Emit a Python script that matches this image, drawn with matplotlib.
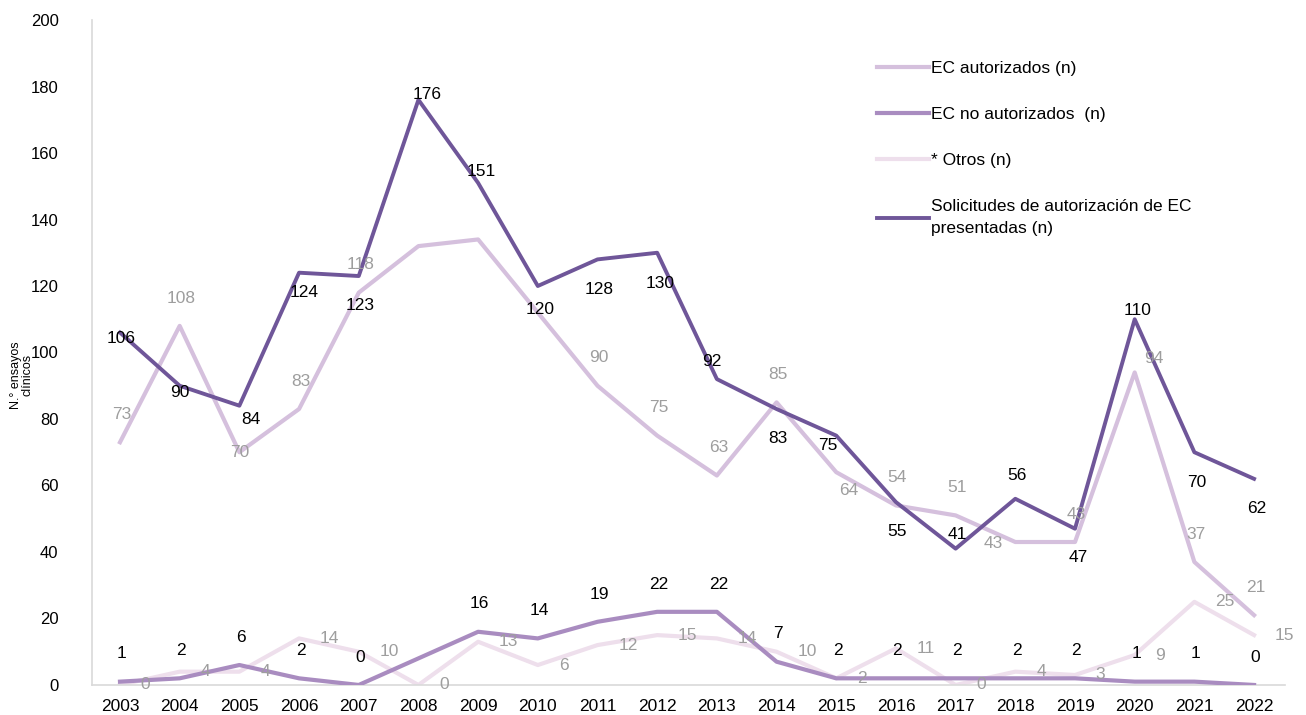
import numpy as np
import matplotlib
matplotlib.use('Agg')
import matplotlib.pyplot as plt

plt.rcParams['font.family'] = ['Liberation Sans', 'DejaVu Sans']

years = [str(y) for y in range(2003, 2023)]
autorizados = [73, 108, 70, 83, 118, 132, 134, 112, 90, 75, 63, 85, 64, 54, 51, 43, 43, 94, 37, 21]
no_autorizados = [1, 2, 6, 2, 0, 8, 16, 14, 19, 22, 22, 7, 2, 2, 2, 2, 2, 1, 1, 0]
otros = [0, 4, 4, 14, 10, 0, 13, 6, 12, 15, 14, 10, 2, 11, 0, 4, 3, 9, 25, 15]
solicitudes = [106, 90, 84, 124, 123, 176, 151, 120, 128, 130, 92, 83, 75, 55, 41, 56, 47, 110, 70, 62]

# which points carry a value label
show_aut = [True] * 5 + [False] * 3 + [True] * 12
show_noaut = [True] * 5 + [False] + [True] * 14

# label offsets (points) for the solicitudes series
sol_off = [(1, -4), (0, -5), (8, -10), (4, -14), (1, -21), (6, 4), (2, 8), (2, -17),
           (1, -22), (2, -22), (-4, 13), (1, -21), (-6, -7), (1, -21), (1, 10),
           (1, 17), (2, -21), (2, 6), (2, -22), (2, -21)]
aut_off = [(1, 20)] * 20
aut_off[2] = (0, 0)        # 2005 sits on the line
aut_off[12] = (9, -13)     # 2015 below right
aut_off[15] = (-16, -1)    # 2018 left
aut_off[17] = (14, 10)     # 2020 right

c_aut = '#D5C0DD'
c_noaut = '#A98CC0'
c_otros = '#EEDFEC'
c_sol = '#6F5699'
c_gray = '#9E9E9E'

fig, ax = plt.subplots(figsize=(13.06, 7.15), dpi=100)
fig.subplots_adjust(left=0.0704, right=0.984, bottom=0.042, top=0.972)

x = np.arange(len(years))
ax.plot(x, autorizados, color=c_aut, linewidth=3, label='EC autorizados (n)', zorder=3)
ax.plot(x, no_autorizados, color=c_noaut, linewidth=3, label='EC no autorizados  (n)', zorder=3)
ax.plot(x, otros, color=c_otros, linewidth=3, label='* Otros (n)', zorder=2)
ax.plot(x, solicitudes, color=c_sol, linewidth=2.8,
        label='Solicitudes de autorización de EC\npresentadas (n)', zorder=4)

fs = 12.5
for i in range(len(x)):
    if show_aut[i]:
        dx, dy = aut_off[i]
        ax.annotate(str(autorizados[i]), (x[i], autorizados[i]), xytext=(dx, dy),
                    textcoords='offset points', ha='center', va='center',
                    color=c_gray, fontsize=fs, zorder=5)
    if show_noaut[i]:
        ax.annotate(str(no_autorizados[i]), (x[i], no_autorizados[i]), xytext=(1, 20),
                    textcoords='offset points', ha='center', va='center',
                    color='black', fontsize=fs, zorder=5)
    ax.annotate(str(otros[i]), (x[i], otros[i]), xytext=(15, 0),
                textcoords='offset points', ha='left', va='center',
                color=c_gray, fontsize=fs, zorder=5)
    dx, dy = sol_off[i]
    ax.annotate(str(solicitudes[i]), (x[i], solicitudes[i]), xytext=(dx, dy),
                textcoords='offset points', ha='center', va='center',
                color='black', fontsize=fs, zorder=6)

ax.set_xlim(-0.47, 19.52)
ax.set_ylim(0, 200)
ax.set_yticks(range(0, 201, 20))
ax.set_xticks(x)
ax.set_xticklabels(years, fontsize=12.5)
ax.tick_params(axis='y', length=0, pad=24, labelsize=12)
ax.tick_params(axis='x', length=0, pad=10)
for s in ['top', 'right']:
    ax.spines[s].set_visible(False)
ax.spines['left'].set_color('#D9D9D9')
ax.spines['bottom'].set_color('#D9D9D9')
ax.spines['left'].set_linewidth(1.2)
ax.spines['bottom'].set_linewidth(1.2)

fig.text(0.0165, 0.475, 'N.° ensayos\nclínicos', rotation=90, ha='center', va='center',
         fontsize=9, linespacing=1.0)

leg = ax.legend(loc='upper left', bbox_to_anchor=(0.645, 0.962), frameon=False,
                fontsize=12.5, handlelength=3.0, handletextpad=0.1, labelspacing=1.78)
for t in leg.get_texts():
    t.set_linespacing(1.6)

plt.savefig('out.png', dpi=100)
